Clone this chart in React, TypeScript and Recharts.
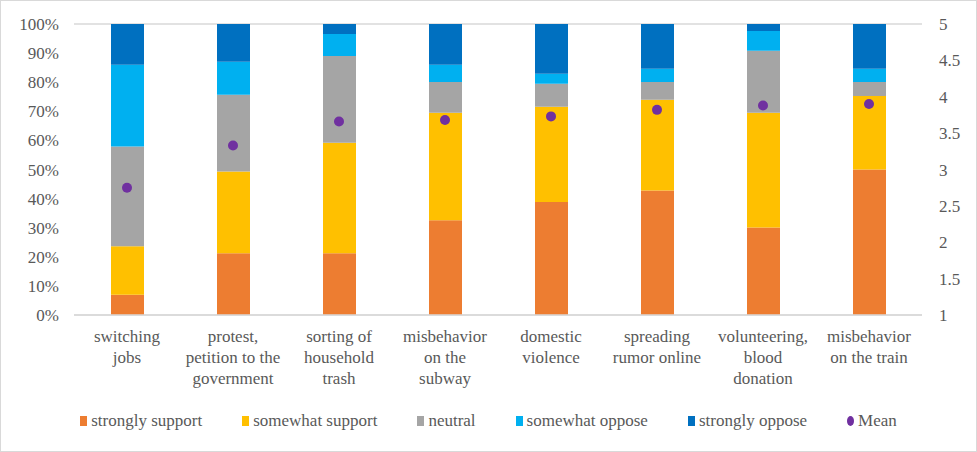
import React from 'react';
import { ComposedChart, Bar, Scatter, XAxis, YAxis, CartesianGrid, Legend } from 'recharts';

document.body.style.margin = '0';

const categories = [
  'switching\njobs',
  'protest,\npetition to the\ngovernment',
  'sorting of\nhousehold\ntrash',
  'misbehavior\non the\nsubway',
  'domestic\nviolence',
  'spreading\nrumor online',
  'volunteering,\nblood\ndonation',
  'misbehavior\non the train',
];

const stronglySupport = [7, 21.2, 21.2, 32.6, 38.8, 42.8, 30.1, 50];
const somewhatSupport = [16.6, 28.1, 38, 36.9, 32.8, 31.2, 39.4, 25.3];
const neutral = [34.3, 26.4, 29.8, 10.6, 7.9, 6.1, 21.3, 4.8];
const somewhatOppose = [28.1, 11.3, 7.6, 5.9, 3.4, 4.5, 6.8, 4.5];
const stronglyOppose = [14, 13, 3.4, 14, 17.1, 15.4, 2.4, 15.4];
const means = [2.75, 3.33, 3.66, 3.68, 3.73, 3.82, 3.88, 3.9];

const leftTicks = [0, 10, 20, 30, 40, 50, 60, 70, 80, 90, 100];
const rightTicks = [1, 1.5, 2, 2.5, 3, 3.5, 4, 4.5, 5];

const series = [
  { key: 'ss', name: 'strongly support', color: '#ed7d31' },
  { key: 'ws', name: 'somewhat support', color: '#ffc000' },
  { key: 'ne', name: 'neutral', color: '#a5a5a5' },
  { key: 'wo', name: 'somewhat oppose', color: '#00b0f0' },
  { key: 'so', name: 'strongly oppose', color: '#0070c0' },
];
const meanColor = '#7030a0';

const data = categories.map((c, i) => ({
  cat: c,
  ss: stronglySupport[i],
  ws: somewhatSupport[i],
  ne: neutral[i],
  wo: somewhatOppose[i],
  so: stronglyOppose[i],
  mean: means[i],
}));

const font = "'Liberation Serif', 'DejaVu Serif', serif";
const textColor = '#595959';

const CatTick = (props: any) => {
  const { x, y, payload } = props;
  const lines = String(payload.value).split('\n');
  return (
    <text x={x} y={y} textAnchor="middle" fill={textColor} style={{ fontFamily: font }} fontSize={17}>
      {lines.map((l, i) => (
        <tspan key={i} x={x} dy={i === 0 ? 19 : 21}>
          {l}
        </tspan>
      ))}
    </text>
  );
};

const LegendContent = () => (
  <div
    style={{
      display: 'flex',
      justifyContent: 'center',
      alignItems: 'center',
      gap: 40,
      height: 50,
      paddingBottom: 10,
      boxSizing: 'border-box',
      fontFamily: font,
      fontSize: 17,
      color: textColor,
    }}
  >
    {series.map((s) => (
      <div key={s.key} style={{ display: 'flex', alignItems: 'center' }}>
        <span style={{ width: 7, height: 10, background: s.color, display: 'inline-block', marginRight: 4 }} />
        <span>{s.name}</span>
      </div>
    ))}
    <div style={{ display: 'flex', alignItems: 'center' }}>
      <span
        style={{ width: 7, height: 10, borderRadius: '50%', background: meanColor, display: 'inline-block', marginRight: 4 }}
      />
      <span>Mean</span>
    </div>
  </div>
);

const Dot = (props: any) => {
  const { cx, cy } = props;
  return <circle cx={cx} cy={cy} r={5} fill={meanColor} />;
};

const tickStyle = { fill: textColor, fontSize: 17, style: { fontFamily: font } };

export default function App() {
  return (
    <div
      style={{
        width: 977,
        height: 452,
        border: '1px solid #d9d9d9',
        boxSizing: 'border-box',
        background: '#fff',
        fontFamily: font,
      }}
    >
      <ComposedChart
        width={975}
        height={450}
        data={data}
        margin={{ top: 23, right: 0, left: 0, bottom: 0 }}
        style={{ fontFamily: font }}
      >
        <CartesianGrid vertical={false} stroke="#d9d9d9" strokeWidth={1.5} />
        <XAxis
          dataKey="cat"
          height={86}
          interval={0}
          tick={<CatTick />}
          tickLine={false}
          axisLine={{ stroke: '#d9d9d9', strokeWidth: 1.5 }}
        />
        <YAxis
          yAxisId="left"
          width={73}
          domain={[0, 100]}
          ticks={leftTicks}
          tickFormatter={(v) => `${v}%`}
          tickLine={false}
          axisLine={false}
          tickMargin={9}
          tick={tickStyle}
        />
        <YAxis
          yAxisId="right"
          orientation="right"
          width={54}
          domain={[1, 5]}
          ticks={rightTicks}
          tickLine={false}
          axisLine={false}
          tickMargin={11}
          tick={{ ...tickStyle, textAnchor: 'start' }}
        />
        {series.map((s) => (
          <Bar
            key={s.key}
            yAxisId="left"
            dataKey={s.key}
            name={s.name}
            stackId="a"
            fill={s.color}
            barSize={33}
            isAnimationActive={false}
          />
        ))}
        <Scatter yAxisId="right" dataKey="mean" name="Mean" fill={meanColor} shape={<Dot />} isAnimationActive={false} />
        <Legend verticalAlign="bottom" content={<LegendContent />} />
      </ComposedChart>
    </div>
  );
}
